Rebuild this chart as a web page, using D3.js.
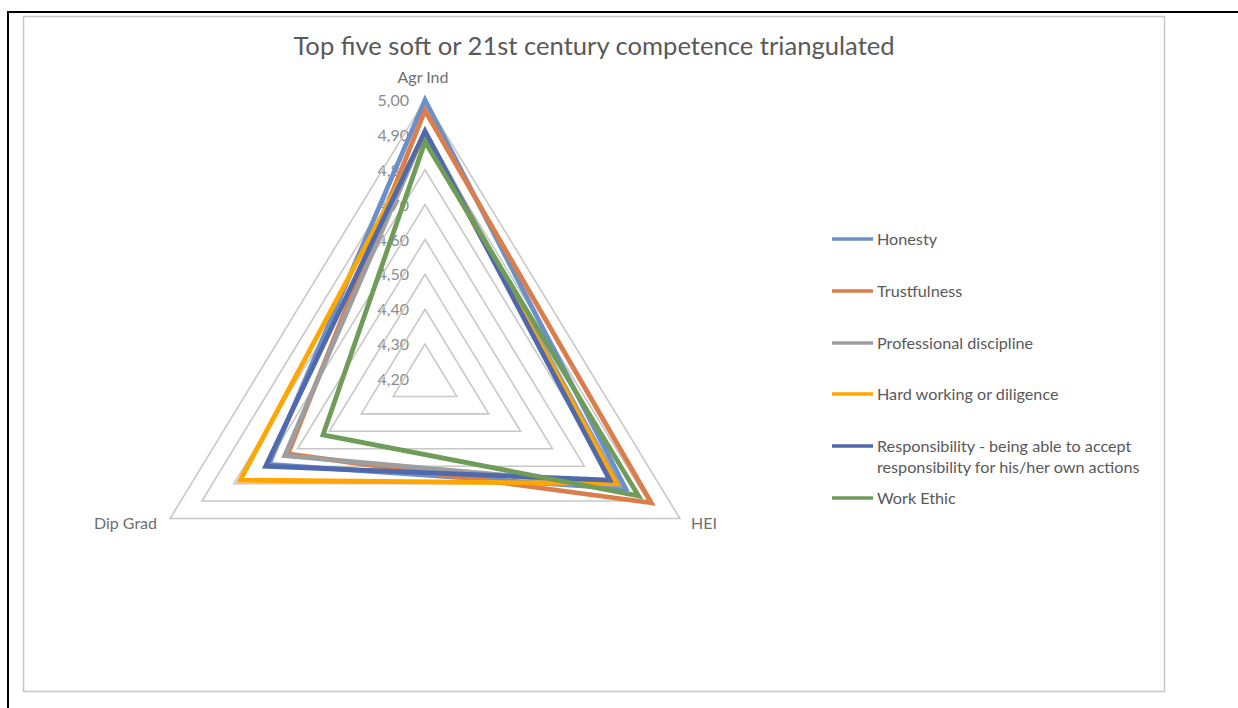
<!DOCTYPE html>
<html>
<head>
<meta charset="utf-8">
<script src="https://cdn.jsdelivr.net/npm/d3@7"></script>
<style>
  html, body { margin: 0; padding: 0; background: #fff; }
  svg { display: block; font-family: Lato, "Open Sans", sans-serif; }
</style>
</head>
<body>
<svg id="chart" width="1238" height="708"></svg>
<script>
// Axes of the radar (clockwise from top)
const axes = ["Agr Ind", "HEI", "Dip Grad"];

// Competence series, values per axis in the order above
const seriesNames = [
  "Honesty",
  "Trustfulness",
  "Professional discipline",
  "Hard working or diligence",
  "Responsibility - being able to accept responsibility for his/her own actions",
  "Work Ethic"
];
const honesty      = [5.00, 4.83, 4.69];
const trustfulness = [4.97, 4.91, 4.63];
const profDisc     = [4.91, 4.81, 4.64];
const hardWorking  = [4.90, 4.80, 4.78];
const responsib    = [4.91, 4.78, 4.70];
const workEthic    = [4.88, 4.87, 4.52];
const seriesValues = [honesty, trustfulness, profDisc, hardWorking, responsib, workEthic];
const seriesColors = ["#6B8FC8", "#DA7E4B", "#9E9E9E", "#FFA600", "#5069AD", "#6F9C58"];

// Radial tick labels
const tickValues = [4.20, 4.30, 4.40, 4.50, 4.60, 4.70, 4.80, 4.90, 5.00];
const tickLabels = ["4,20", "4,30", "4,40", "4,50", "4,60", "4,70", "4,80", "4,90", "5,00"];

const svg = d3.select("#chart");

// Outer page frame
svg.append("line").attr("x1", 7).attr("y1", 12).attr("x2", 1238).attr("y2", 12)
  .attr("stroke", "#000").attr("stroke-width", 2);
svg.append("line").attr("x1", 8).attr("y1", 11).attr("x2", 8).attr("y2", 708)
  .attr("stroke", "#000").attr("stroke-width", 2);

// Chart area border
svg.append("rect").attr("x", 23.5).attr("y", 16.5).attr("width", 1141).attr("height", 675)
  .attr("fill", "#fff").attr("stroke", "#C6C6C6").attr("stroke-width", 1.5);

// Title
svg.append("text").attr("x", 594).attr("y", 55).attr("text-anchor", "middle")
  .attr("font-size", 25.6).attr("fill", "#595959")
  .text("Top five soft or 21st century competence triangulated");

// Radar geometry
const cx = 425, cy = 379, sx = 1.055;
const r = d3.scaleLinear().domain([4.20, 5.00]).range([0, 279]);
const angleOf = i => i * 2 * Math.PI / axes.length;
const pt = (v, i) => [cx + sx * r(v) * Math.sin(angleOf(i)), cy - r(v) * Math.cos(angleOf(i))];

const g = svg.append("g");

// Tick labels along the top axis (drawn beneath the lines)
g.selectAll("text.tick").data(tickValues).join("text")
  .attr("class", "tick")
  .attr("x", cx - 16).attr("y", v => cy - r(v) + 6)
  .attr("text-anchor", "end").attr("font-size", 16).attr("fill", "#8C8C8C")
  .text((v, i) => tickLabels[i]);

// Grid triangles
const gridLevels = tickValues.slice(1);
g.selectAll("path.grid").data(gridLevels).join("path")
  .attr("class", "grid")
  .attr("d", v => d3.line()(axes.map((a, i) => pt(v, i))) + "Z")
  .attr("fill", "none").attr("stroke", "#C8C8C8").attr("stroke-width", 1.6);

// Series polygons
const line = d3.line();
g.selectAll("path.series").data(seriesValues).join("path")
  .attr("class", "series")
  .attr("d", vals => line(vals.map((v, i) => pt(v, i))) + "Z")
  .attr("fill", "none")
  .attr("stroke", (d, i) => seriesColors[i])
  .attr("stroke-width", 4.8)
  .attr("stroke-linejoin", "miter");

// Axis labels
const axisLabelPos = [
  { x: cx - 2, y: 83, anchor: "middle" },
  { x: 691, y: 529, anchor: "start" },
  { x: 157, y: 529, anchor: "end" }
];
g.selectAll("text.axis").data(axes).join("text")
  .attr("class", "axis")
  .attr("x", (d, i) => axisLabelPos[i].x).attr("y", (d, i) => axisLabelPos[i].y)
  .attr("text-anchor", (d, i) => axisLabelPos[i].anchor)
  .attr("font-size", 16).attr("fill", "#6F6F6F")
  .text(d => d);

// Legend
const legendRows = [239, 291, 343, 394, 446, 498];
const legend = svg.append("g");
seriesNames.forEach((name, i) => {
  const y = legendRows[i];
  legend.append("line").attr("x1", 832).attr("x2", 873).attr("y1", y).attr("y2", y)
    .attr("stroke", seriesColors[i]).attr("stroke-width", 3.5);
  const t = legend.append("text").attr("x", 877).attr("y", y + 5.5)
    .attr("font-size", 16.2).attr("fill", "#595959");
  if (i === 4) {
    t.append("tspan").attr("x", 877).text("Responsibility - being able to accept");
    t.append("tspan").attr("x", 877).attr("dy", 21).text("responsibility for his/her own actions");
  } else {
    t.text(name);
  }
});
</script>
</body>
</html>
